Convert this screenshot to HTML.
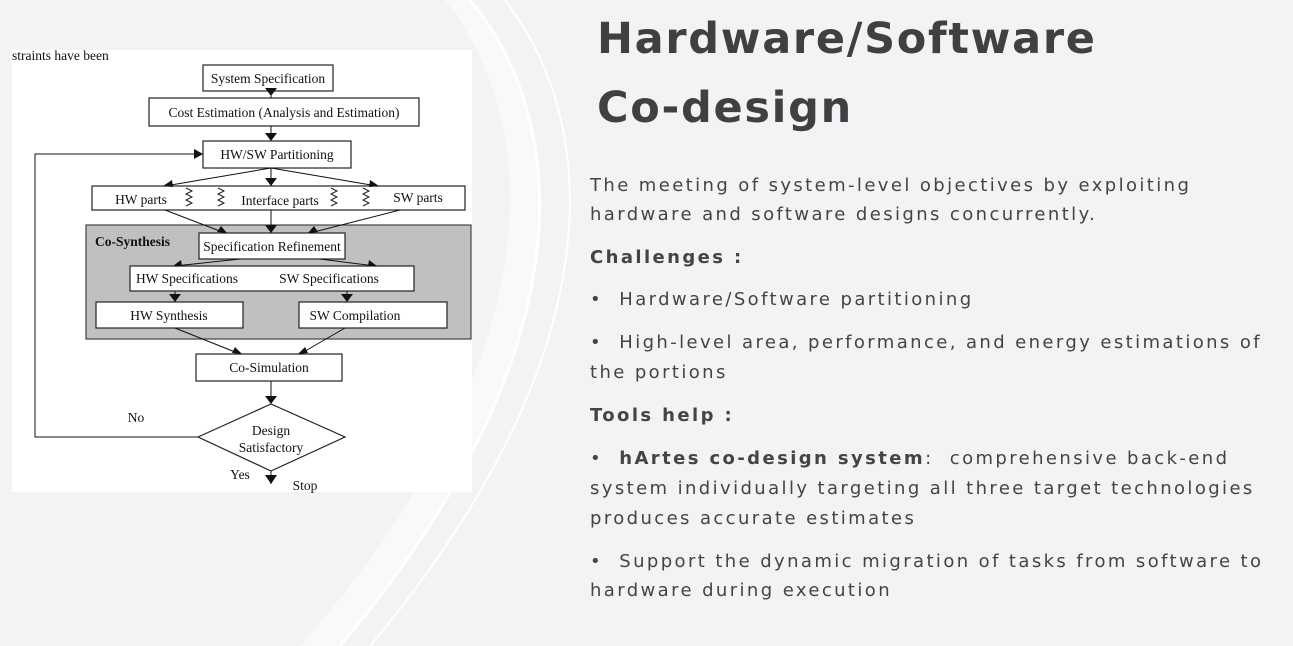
<!DOCTYPE html>
<html><head><meta charset="utf-8"><style>
html,body{margin:0;padding:0;width:1293px;height:646px;overflow:hidden;background:#f2f3f4}
.t{position:absolute;font-family:"DejaVu Sans",sans-serif;color:#3f4042;white-space:nowrap}
.h{font-weight:bold;font-size:43px;letter-spacing:1.7px;left:597px}
.b{font-size:18px;letter-spacing:2.4px;left:590px;color:#444}
.bb{font-weight:bold}
</style></head><body>
<svg width="1293" height="646" style="position:absolute;left:0;top:0">
<path d="M445 0 C 540 120, 560 350, 300 646 L 340 646 C 590 350, 570 120, 470 0 Z" fill="#f8f9f9"/>
<path d="M470 0 C 570 120, 590 350, 340 646" fill="none" stroke="#fff" stroke-width="3"/>
<path d="M505 0 C 605 130, 610 360, 370 646" fill="none" stroke="#fff" stroke-width="2"/>
<rect x="12" y="50" width="460" height="442" fill="#fff"/>
<g font-family="Liberation Serif,serif" font-size="13.5" fill="#111" text-anchor="middle" stroke-width="1.2">
<text x="12" y="60" text-anchor="start">straints have been</text>
<rect x="203" y="65" width="130" height="26" fill="#fff" stroke="#222"/><text x="268" y="83">System Specification</text>
<rect x="149" y="98" width="270" height="28" fill="#fff" stroke="#222"/><text x="284" y="117">Cost Estimation (Analysis and Estimation)</text>
<rect x="203" y="141" width="148" height="27" fill="#fff" stroke="#222"/><text x="277" y="159">HW/SW Partitioning</text>
<rect x="92" y="186" width="373" height="24" fill="#fff" stroke="#222"/>
<text x="141" y="204">HW parts</text><text x="280" y="205">Interface parts</text><text x="418" y="202">SW parts</text>
<g fill="none" stroke="#222" stroke-width="1">
<path d="M186 188 l6 3 -6 3 6 3 -6 3 6 3 -6 3"/><path d="M218 188 l6 3 -6 3 6 3 -6 3 6 3 -6 3"/>
<path d="M331 188 l6 3 -6 3 6 3 -6 3 6 3 -6 3"/><path d="M363 188 l6 3 -6 3 6 3 -6 3 6 3 -6 3"/>
<path d="M256 268 l6 3 -6 3 6 3 -6 3 6 3 -6 3 6 3"/>
</g>
<rect x="86" y="225" width="385" height="114" fill="#c0c0c0" stroke="#444"/>
<text x="95" y="246" text-anchor="start" font-weight="bold">Co-Synthesis</text>
<rect x="199" y="233" width="146" height="26" fill="#fff" stroke="#222"/><text x="272" y="251">Specification Refinement</text>
<rect x="130" y="266" width="284" height="25" fill="#fff" stroke="#222"/><text x="187" y="283">HW Specifications</text><text x="329" y="283">SW Specifications</text>
<rect x="96" y="302" width="147" height="26" fill="#fff" stroke="#222"/><text x="169" y="320">HW Synthesis</text>
<rect x="299" y="302" width="148" height="26" fill="#fff" stroke="#222"/><text x="355" y="320">SW Compilation</text>
<rect x="196" y="354" width="146" height="27" fill="#fff" stroke="#222"/><text x="269" y="372">Co-Simulation</text>
<polygon points="198,437 271,404 345,437 271,471" fill="#fff" stroke="#222"/>
<text x="271" y="435">Design</text><text x="271" y="452">Satisfactory</text>
<text x="136" y="422">No</text><text x="240" y="479">Yes</text><text x="305" y="490">Stop</text>
<g stroke="#111" stroke-width="1" fill="none">
<path d="M271 91 V98 M271 126 V141 M271 168 V186 M271 168 L165 186 M271 168 L377 186 M271 210 V233 M165 210 L225 233 M400 210 L310 233 M240 259 L175 266 M320 259 L375 266 M175 291 V302 M347 291 V302 M175 328 L240 354 M345 328 L300 354 M271 381 V404 M271 471 V484 M198 437 H35 V154 H203"/>
</g>
<g fill="#111">
<path d="M265 88 h12 l-6 8z"/><path d="M265 133 h12 l-6 8z"/><path d="M265 178 h12 l-6 8z"/>
<path d="M163 186 l9 -6 l1 7z"/><path d="M379 186 l-9 -6 l-1 7z"/>
<path d="M265 225 h12 l-6 8z"/><path d="M227 233 l-10 -1 4 -6z"/><path d="M308 233 l10 -1 -4 -6z"/>
<path d="M173 266 l8 -6 1 6z"/><path d="M377 266 l-8 -6 -1 6z"/>
<path d="M169 294 h12 l-6 8z"/><path d="M341 294 h12 l-6 8z"/>
<path d="M242 354 l-10 -1 3 -6z"/><path d="M298 354 l10 -1 -3 -6z"/>
<path d="M265 396 h12 l-6 8z"/><path d="M265 475 h12 l-6 9z"/>
<path d="M203 154 l-9 -5 v10z"/>
</g>
</g>
</svg>
<div class="t h" style="top:14px">Hardware/Software</div>
<div class="t h" style="top:83px">Co-design</div>
<div class="t b" style="top:175px">The meeting of system-level objectives by exploiting</div>
<div class="t b" style="top:204px">hardware and software designs concurrently.</div>
<div class="t b bb" style="top:247px">Challenges :</div>
<div class="t b" style="top:289px">•&nbsp; Hardware/Software partitioning</div>
<div class="t b" style="top:332px">•&nbsp; High-level area, performance, and energy estimations of</div>
<div class="t b" style="top:362px">the portions</div>
<div class="t b bb" style="top:405px">Tools help :</div>
<div class="t b" style="top:448px">•&nbsp; <b>hArtes co-design system</b>:&nbsp; comprehensive back-end</div>
<div class="t b" style="top:478px">system individually targeting all three target technologies</div>
<div class="t b" style="top:508px">produces accurate estimates</div>
<div class="t b" style="top:551px">•&nbsp; Support the dynamic migration of tasks from software to</div>
<div class="t b" style="top:580px">hardware during execution</div>
</body></html>
